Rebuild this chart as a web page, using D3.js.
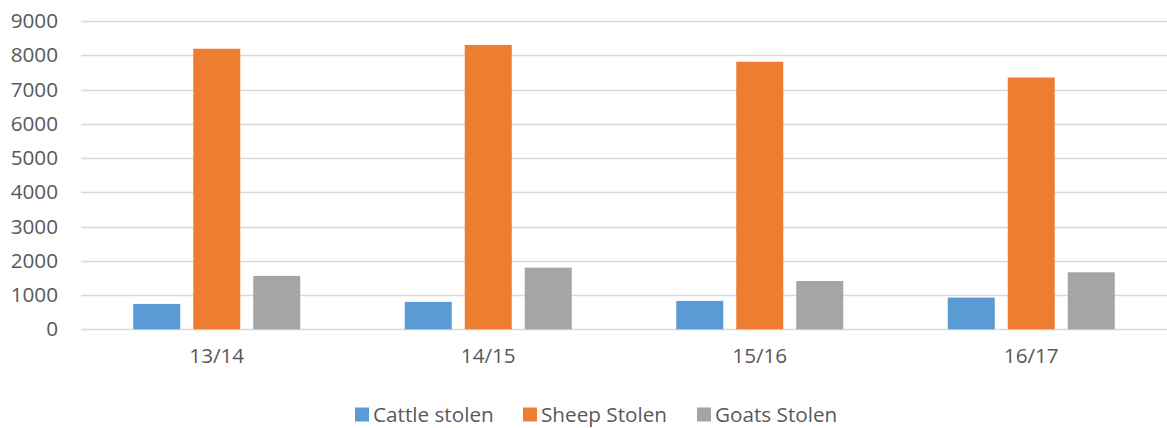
<!DOCTYPE html>
<html><head><meta charset="utf-8">
<script src="https://cdn.jsdelivr.net/npm/d3@7"></script>
<style>body{margin:0;background:#fff}svg{display:block}text{font-family:"Open Sans",sans-serif;fill:#595959}</style>
</head><body>
<script>
const categories = ["13/14","14/15","15/16","16/17"];
const seriesNames = ["Cattle stolen","Sheep Stolen","Goats Stolen"];
const cattle = [740, 800, 830, 925];
const sheep = [8190, 8300, 7810, 7350];
const goats = [1560, 1800, 1410, 1665];
const yTicks = [0,1000,2000,3000,4000,5000,6000,7000,8000,9000];
const colors = ["#5b9bd5","#ed7d31","#a5a5a5"];
const series = [cattle, sheep, goats];

const W = 1167, H = 428;
const FS = "20.7px";
const svg = d3.select("body").append("svg").attr("width", W).attr("height", H);
const x = d3.scaleBand().domain(categories).range([81, 1167]);
const y = d3.scaleLinear().domain([0, 9000]).range([329.3, 21]);
const inner = d3.scaleBand().domain(seriesNames).range([0, x.bandwidth()]).paddingInner(0.2167).paddingOuter(0.871);

const grid = svg.append("g");
grid.selectAll("line").data(yTicks).join("line")
  .attr("x1", 81).attr("x2", W)
  .attr("y1", d => Math.round(y(d)) + 0.5).attr("y2", d => Math.round(y(d)) + 0.5)
  .attr("stroke", "#d9d9d9").attr("stroke-width", 1.5);

const yAxis = svg.append("g").attr("transform", "translate(58,0)")
  .call(d3.axisLeft(y).tickValues(yTicks).tickSize(0).tickPadding(0).tickFormat(d3.format("d")));
yAxis.select(".domain").remove();
yAxis.selectAll("text").style("font-size", FS).style("fill", "#595959").style("font-family", "Open Sans");

const groups = svg.append("g").selectAll("g").data(categories).join("g")
  .attr("transform", d => `translate(${x(d)},0)`);
groups.selectAll("rect").data((c, i) => seriesNames.map((s, k) => ({s, v: series[k][i], k})))
  .join("rect")
  .attr("x", d => inner(d.s)).attr("width", inner.bandwidth())
  .attr("y", d => y(d.v)).attr("height", d => y(0) - y(d.v))
  .attr("fill", d => colors[d.k]);

const xAxis = svg.append("g").attr("transform", "translate(0,329)")
  .call(d3.axisBottom(x).tickSize(0).tickPadding(19));
xAxis.select(".domain").remove();
xAxis.selectAll("text").style("font-size", FS).style("fill", "#595959").style("font-family", "Open Sans");

const legendX = [355, 523, 697];
const leg = svg.append("g").selectAll("g").data(seriesNames).join("g")
  .attr("transform", (d, i) => `translate(${legendX[i]},407.5)`);
leg.append("rect").attr("width", 14).attr("height", 14).attr("fill", (d, i) => colors[i]);
leg.append("text").attr("x", 18).attr("y", 14.5).style("font-size", FS).text(d => d);
</script>
</body></html>
